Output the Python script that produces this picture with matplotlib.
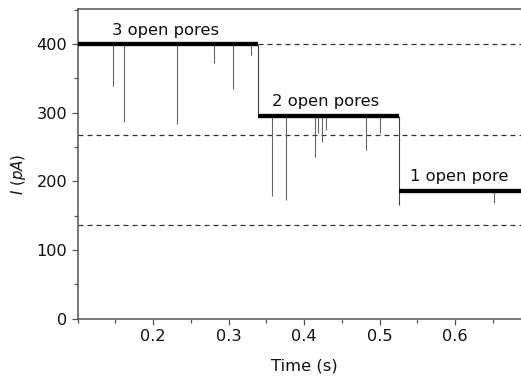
import matplotlib
matplotlib.use("Agg")
import matplotlib.pyplot as plt
from matplotlib.ticker import MultipleLocator

plt.rcParams['font.family'] = ['DejaVu Sans']
plt.rcParams['mathtext.fontset'] = 'dejavusans'

# ---- data ----
level_start = [0.100, 0.3395, 0.526]
level_end = [0.3395, 0.526, 0.700]
level_value = [400, 295, 186]
level_labels = ["3 open pores", "2 open pores", "1 open pore"]
label_x = [0.2167, 0.4284, 0.6057]
label_y = [413, 310, 200]

# step transitions (time, from, to)
step_time = [0.3395, 0.526]
step_top = [400, 295]
step_bottom = [295, 165]

# downward spikes (time, minimum current)
spike_time = [0.147, 0.161, 0.232, 0.280, 0.3056, 0.329,
              0.3568, 0.3758, 0.4138, 0.419, 0.4235, 0.429, 0.482, 0.5005,
              0.651]
spike_min = [339, 286, 283, 373, 334, 384,
             179, 173, 236, 270, 258, 275, 246, 270,
             169]
spike_level = [400, 400, 400, 400, 400, 400,
               295, 295, 295, 295, 295, 295, 295, 295,
               186]

ref_levels = [400, 268, 137]

xticks = [0.2, 0.3, 0.4, 0.5, 0.6]
yticks = [0, 100, 200, 300, 400]

fig = plt.figure(figsize=(5.21, 3.77), dpi=100)
ax = fig.add_axes([0.1491, 0.1546, 0.8693, 0.8215])

for y in ref_levels:
    ax.axhline(y, color='#333333', lw=0.9, ls=(0, (4, 3.2)), zorder=1)

ax.vlines(spike_time, spike_min, spike_level, color='#666666', lw=0.8, zorder=2)
ax.vlines(step_time, step_bottom, step_top, color='#444444', lw=0.8, zorder=2)
ax.hlines(level_value, level_start, level_end, color='black', lw=3.1, zorder=3)

for t, x, y in zip(level_labels, label_x, label_y):
    ax.text(x, y, t, ha='center', va='baseline', fontsize=11.8, color='#111111')

ax.set_xlim(0.1, 0.7)
ax.set_ylim(0, 451)
ax.set_xticks(xticks)
ax.set_xticklabels([f"{v:.1f}" for v in xticks])
ax.set_yticks(yticks)
ax.xaxis.set_minor_locator(MultipleLocator(0.05))
ax.yaxis.set_minor_locator(MultipleLocator(50))

for s in ['left', 'bottom', 'top', 'right']:
    ax.spines[s].set_color('#555555')
    ax.spines[s].set_linewidth(1.1)

ax.tick_params(which='major', direction='out', length=4.5, width=0.9,
               color='#555555', labelsize=11.6, labelcolor='#111111', pad=3)
ax.tick_params(which='minor', direction='out', length=3, width=0.9,
               color='#555555')
ax.tick_params(top=False, right=False, which='both')

ax.set_xlabel("Time (s)", fontsize=11.8, color='#111111')
ax.xaxis.set_label_coords(0.5, -0.130)
ax.set_ylabel(r"$I$ ($pA$)", fontsize=10.8, color='#111111')
ax.yaxis.set_label_coords(-0.110, 0.467)

fig.savefig("out.png", dpi=100)
